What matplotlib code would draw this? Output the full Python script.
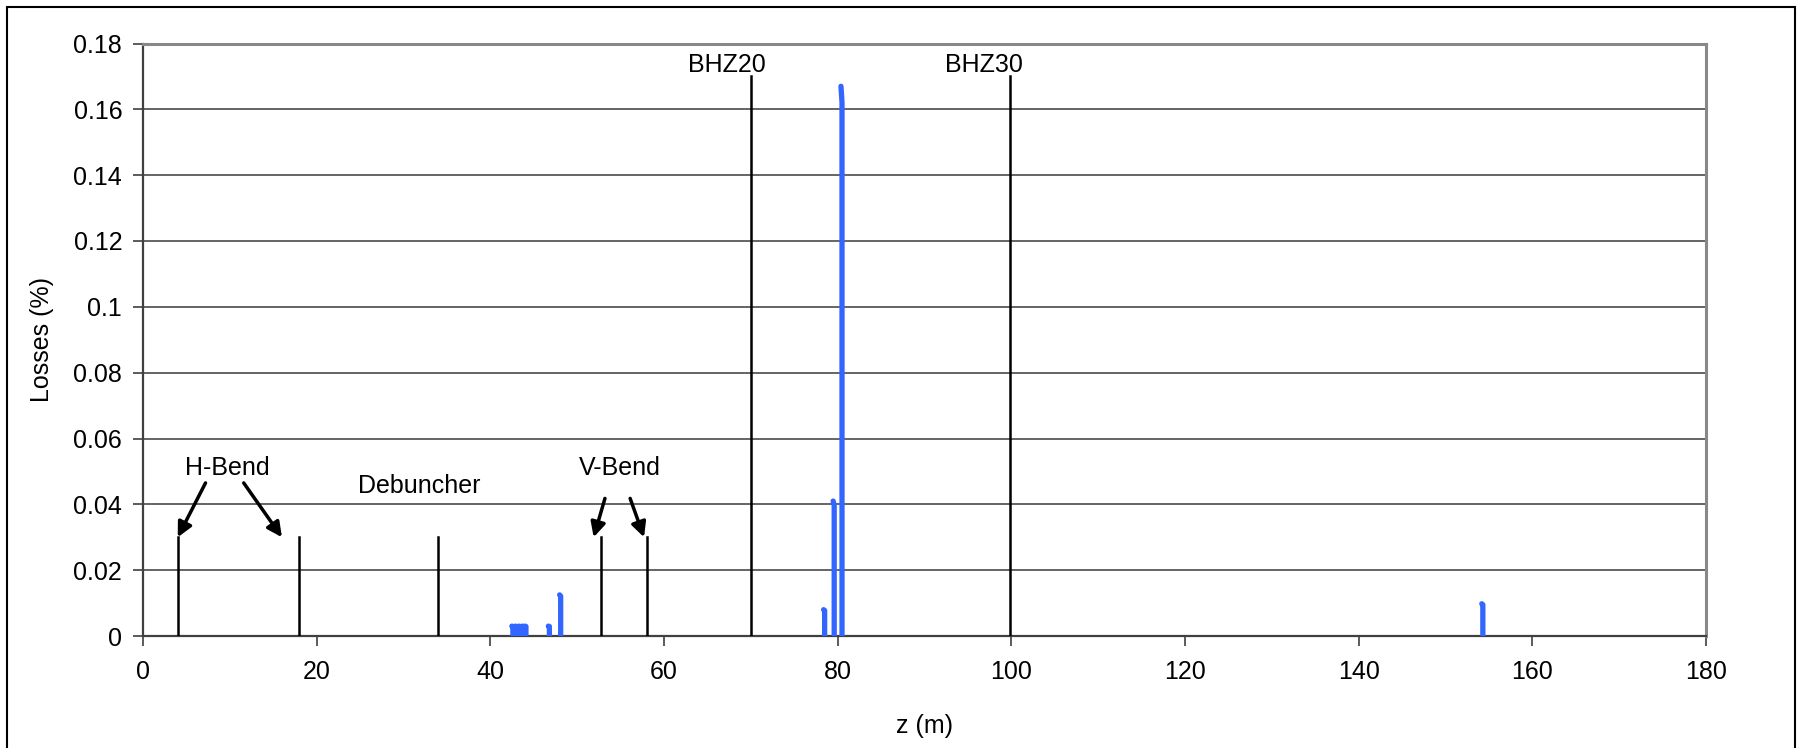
import matplotlib
matplotlib.use("Agg")
import matplotlib.pyplot as plt
from matplotlib.patches import Rectangle

# ---- data ----
elem_z = [4.0, 18.0, 34.0, 52.7, 58.0, 70.0, 99.8]
elem_h = [0.03, 0.03, 0.03, 0.03, 0.03, 0.17, 0.17]

loss_z = [42.6, 43.0, 43.4, 43.8, 44.1, 46.8, 48.1, 78.5, 79.6, 80.5, 154.3]
loss_h = [0.003, 0.003, 0.003, 0.003, 0.003, 0.003, 0.0125, 0.008, 0.041, 0.167, 0.0098]

x_ticks = [0, 20, 40, 60, 80, 100, 120, 140, 160, 180]
y_ticks = [0, 0.02, 0.04, 0.06, 0.08, 0.1, 0.12, 0.14, 0.16, 0.18]
y_tick_labels = ["0", "0.02", "0.04", "0.06", "0.08", "0.1", "0.12", "0.14", "0.16", "0.18"]

labels = ["H-Bend", "Debuncher", "V-Bend", "BHZ20", "BHZ30"]
label_z = [9.7, 31.8, 54.9, 67.2, 96.9]
label_y = [0.051, 0.0455, 0.051, 0.1735, 0.1735]

# arrows: (tail z, tail y) -> (tip z, tip y)
arrow_tail_z = [7.2, 11.6, 53.2, 56.1]
arrow_tail_y = [0.0465, 0.0465, 0.0418, 0.0418]
arrow_tip_z = [4.0, 16.0, 51.9, 57.7]
arrow_tip_y = [0.030, 0.030, 0.030, 0.030]

plt.rcParams['font.family'] = ['Liberation Sans', 'DejaVu Sans']

W, H = 1797, 748
fig = plt.figure(figsize=(W / 100, H / 100), dpi=100)
ax = fig.add_axes([143 / W, 1 - 636 / H, (1706 - 143) / W, (636 - 43.5) / H])

ax.set_xlim(0, 180)
ax.set_ylim(0, 0.18)

# grid
for y in y_ticks[1:]:
    ax.axhline(y, color='#3a3a3a', lw=1.1, zorder=1)

# element markers
for z, h in zip(elem_z, elem_h):
    ax.plot([z, z], [0, h], color='black', lw=1.8, zorder=3)

# loss spikes
for z, h in zip(loss_z, loss_h):
    ax.plot([z, z, z - 0.12], [0, h * 0.97, h], color='#3366ff', lw=3.8,
            solid_capstyle='round', solid_joinstyle='round', zorder=4)

# labels
fs = 18
for t, zx, yy in zip(labels, label_z, label_y):
    ax.text(zx, yy, t, ha='center', va='center', fontsize=fs, color='black', zorder=5)

for tz, ty, hz, hy in zip(arrow_tail_z, arrow_tail_y, arrow_tip_z, arrow_tip_y):
    ax.annotate('', xy=(hz, hy), xytext=(tz, ty),
                arrowprops=dict(arrowstyle='-|>', lw=2.5, color='black',
                                mutation_scale=22, shrinkA=0, shrinkB=0), zorder=5)

# axes styling
ax.set_xticks(x_ticks)
ax.set_xticklabels([str(v) for v in x_ticks], fontsize=fs)
ax.set_yticks(y_ticks)
ax.set_yticklabels(y_tick_labels, fontsize=fs)
ax.tick_params(axis='both', direction='out', length=7, width=1.2, color='#404040', pad=8)
ax.tick_params(axis='x', pad=10)

for s in ['left', 'bottom']:
    ax.spines[s].set_color('#404040')
    ax.spines[s].set_linewidth(1.6)
for s in ['top', 'right']:
    ax.spines[s].set_color('#888888')
    ax.spines[s].set_linewidth(2.2)

ax.set_xlabel('z (m)', fontsize=fs, labelpad=22)
ax.set_ylabel('Losses (%)', fontsize=fs, labelpad=14)

# outer frame
fig.patches.append(Rectangle((7 / W, -0.05), (1795 - 7) / W, 1 - 7 / H + 0.05,
                             transform=fig.transFigure, fill=False,
                             edgecolor='black', lw=1.5))

fig.savefig('out.png', dpi=100)
